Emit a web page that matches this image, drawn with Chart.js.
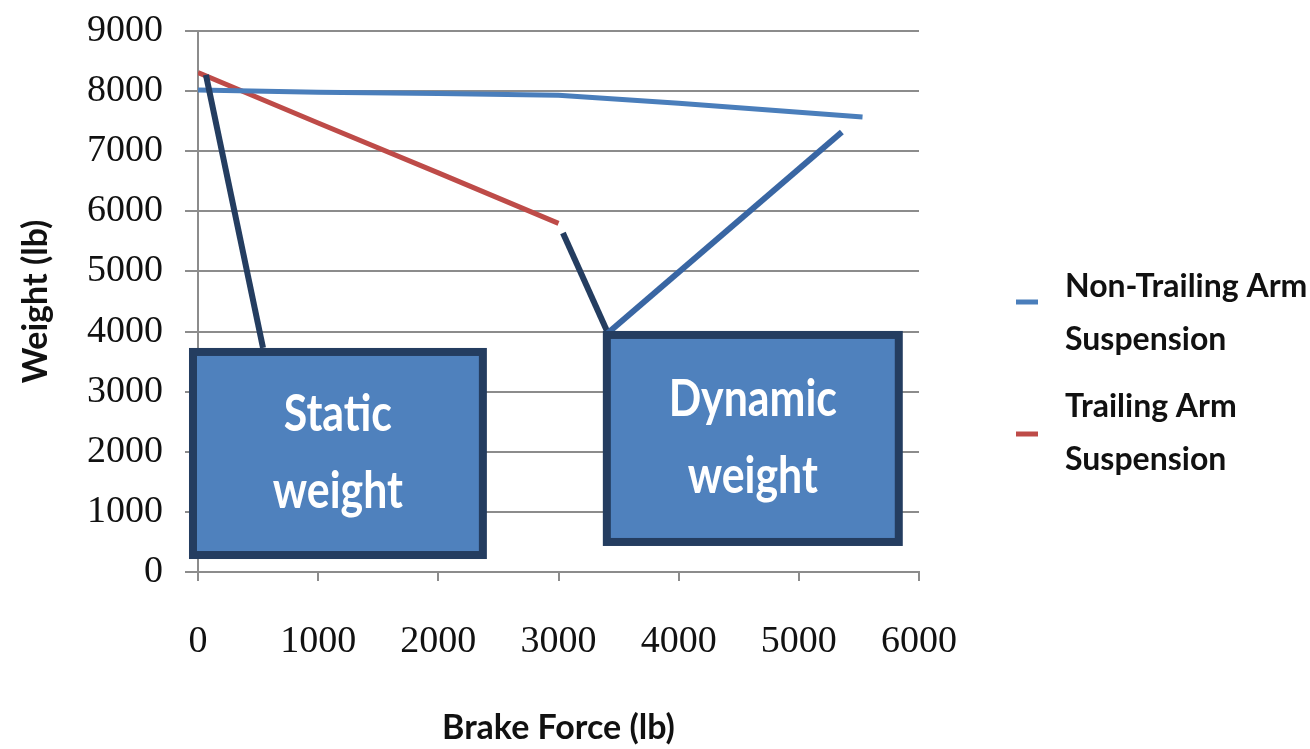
<!DOCTYPE html>
<html>
<head>
<meta charset="utf-8">
<script src="https://cdn.jsdelivr.net/npm/chart.js@4.4.1/dist/chart.umd.min.js"></script>
<style>
  html, body { margin: 0; padding: 0; background: #ffffff; }
  #wrap { width: 1310px; height: 749px; }
  canvas { display: block; }
</style>
</head>
<body>
<div id="wrap"><canvas id="chart" width="1310" height="749"></canvas></div>
<script>
// Brake force (lb) against axle weight (lb) for two suspension types
const forceNonTrailing = [0, 1000, 2000, 3000, 4000, 5530];
const weightNonTrailing = [8020, 7980, 7960, 7930, 7800, 7570];
const forceTrailing = [0, 1000, 2000, 3000];
const weightTrailing = [8310, 7470, 6640, 5800];
const seriesNames = [['Non-Trailing Arm', 'Suspension'], ['Trailing Arm', 'Suspension']];
const xTickValues = [0, 1000, 2000, 3000, 4000, 5000, 6000];
const yTickValues = [0, 1000, 2000, 3000, 4000, 5000, 6000, 7000, 8000, 9000];
const calloutTexts = [['Static', 'weight'], ['Dynamic', 'weight']];

// Callout geometry, expressed in axis units
const callouts = [
  { box: { x0: -75, x1: 2404, y0: 216, y1: 3727 },
    leaders: [ { from: [66, 8270], to: [541, 3727], color: '#243d60' } ] },
  { box: { x0: 3369, x1: 5865, y0: 433, y1: 4010 },
    leaders: [ { from: [3037, 5641], to: [3411, 3977], color: '#243d60' },
               { from: [3411, 3977], to: [5358, 7321], color: '#3966a3' } ] }
];

const BLUE = '#4a7ebb';
const RED = '#be4b48';
const GRID = '#8c8c8c';
const TEXT = '#111111';

const toPoints = (xs, ys) => xs.map((x, i) => ({ x, y: ys[i] }));

// Callout boxes with leader lines, drawn over the plot
const calloutPlugin = {
  id: 'callouts',
  afterDraw(chart) {
    const { ctx, scales: { x, y } } = chart;
    ctx.save();
    callouts.forEach((c, i) => {
      c.leaders.forEach(l => {
        ctx.beginPath();
        ctx.strokeStyle = l.color;
        ctx.lineWidth = 6;
        ctx.lineCap = 'butt';
        ctx.moveTo(x.getPixelForValue(l.from[0]), y.getPixelForValue(l.from[1]));
        ctx.lineTo(x.getPixelForValue(l.to[0]), y.getPixelForValue(l.to[1]));
        ctx.stroke();
      });
      const left = x.getPixelForValue(c.box.x0);
      const right = x.getPixelForValue(c.box.x1);
      const top = y.getPixelForValue(c.box.y1);
      const bottom = y.getPixelForValue(c.box.y0);
      const bw = 8;
      ctx.fillStyle = '#243d60';
      ctx.fillRect(left, top, right - left, bottom - top);
      ctx.fillStyle = '#4f81bd';
      ctx.fillRect(left + bw, top + bw, right - left - 2 * bw, bottom - top - 2 * bw);
      const cx = (left + right) / 2;
      const cy = (top + bottom) / 2;
      ctx.fillStyle = '#ffffff';
      ctx.font = 'bold 51px Lato, "Open Sans", sans-serif';
      ctx.textAlign = 'center';
      ctx.textBaseline = 'alphabetic';
      const lines = calloutTexts[i];
      const baselines = [cy - 22, cy + 55];
      lines.forEach((t, k) => {
        ctx.save();
        ctx.translate(cx, baselines[k]);
        ctx.scale(0.84, 1);
        ctx.fillText(t, 0, 0);
        ctx.restore();
      });
    });
    ctx.restore();
  }
};

// Legend on the right with two-line entries
const sideLegend = {
  id: 'sideLegend',
  afterDraw(chart) {
    const { ctx, chartArea } = chart;
    const markerX0 = chartArea.right + 97;
    const markerX1 = chartArea.right + 119;
    const textX = chartArea.right + 146;
    const baselines = [297, 417];
    const markerY = [302, 434];
    ctx.save();
    chart.data.datasets.forEach((ds, i) => {
      ctx.beginPath();
      ctx.strokeStyle = ds.borderColor;
      ctx.lineWidth = 5;
      ctx.moveTo(markerX0, markerY[i]);
      ctx.lineTo(markerX1, markerY[i]);
      ctx.stroke();
      ctx.fillStyle = TEXT;
      ctx.font = 'bold 32px Lato, "Open Sans", sans-serif';
      ctx.textAlign = 'left';
      ctx.textBaseline = 'alphabetic';
      ds.label.forEach((line, k) => ctx.fillText(line, textX, baselines[i] + k * 53));
    });
    ctx.restore();
  }
};

const whiteBackground = {
  id: 'whiteBackground',
  beforeDraw(chart) {
    const { ctx, width, height } = chart;
    ctx.save();
    ctx.fillStyle = '#ffffff';
    ctx.fillRect(0, 0, width, height);
    ctx.restore();
  }
};

const tickFont = { family: '"Liberation Serif", "DejaVu Serif", serif', size: 38 };
const titleFont = { family: 'Lato, "Open Sans", sans-serif', size: 34, weight: 'bold' };

new Chart(document.getElementById('chart'), {
  type: 'line',
  data: {
    datasets: [
      { label: seriesNames[0], data: toPoints(forceNonTrailing, weightNonTrailing),
        borderColor: BLUE, borderWidth: 5, pointRadius: 0, tension: 0, fill: false },
      { label: seriesNames[1], data: toPoints(forceTrailing, weightTrailing),
        borderColor: RED, borderWidth: 5, pointRadius: 0, tension: 0, fill: false }
    ]
  },
  options: {
    responsive: false,
    animation: false,
    layout: { padding: { left: 0, top: 31, right: 391, bottom: 0 } },
    plugins: { legend: { display: false }, tooltip: { enabled: false } },
    scales: {
      x: {
        type: 'linear',
        min: xTickValues[0],
        max: xTickValues[xTickValues.length - 1],
        afterBuildTicks: s => { s.ticks = xTickValues.map(v => ({ value: v })); },
        ticks: { font: tickFont, color: TEXT, padding: 38, maxRotation: 0, autoSkip: false,
                 callback: v => String(v) },
        grid: { drawOnChartArea: false, drawTicks: true, tickLength: 9, color: GRID, lineWidth: 2 },
        border: { color: GRID, width: 2 },
        title: { display: true, text: 'Brake Force (lb)', font: titleFont, color: TEXT,
                 padding: { top: 0, bottom: 1 } },
        afterFit: s => { s.height = 177; s.paddingLeft = 0; s.paddingRight = 0; }
      },
      y: {
        min: yTickValues[0],
        max: yTickValues[yTickValues.length - 1],
        afterBuildTicks: s => { s.ticks = yTickValues.map(v => ({ value: v })); },
        ticks: { font: tickFont, color: TEXT, padding: 22, callback: v => String(v) },
        grid: { color: GRID, lineWidth: 2, tickLength: 13 },
        border: { color: GRID, width: 2 },
        title: { display: true, text: 'Weight (lb)', font: titleFont, color: TEXT,
                 padding: { top: 16, bottom: 0 } },
        afterFit: s => { s.width = 198; s.paddingTop = 0; s.paddingBottom = 0; }
      }
    }
  },
  plugins: [whiteBackground, calloutPlugin, sideLegend]
});
</script>
</body>
</html>
